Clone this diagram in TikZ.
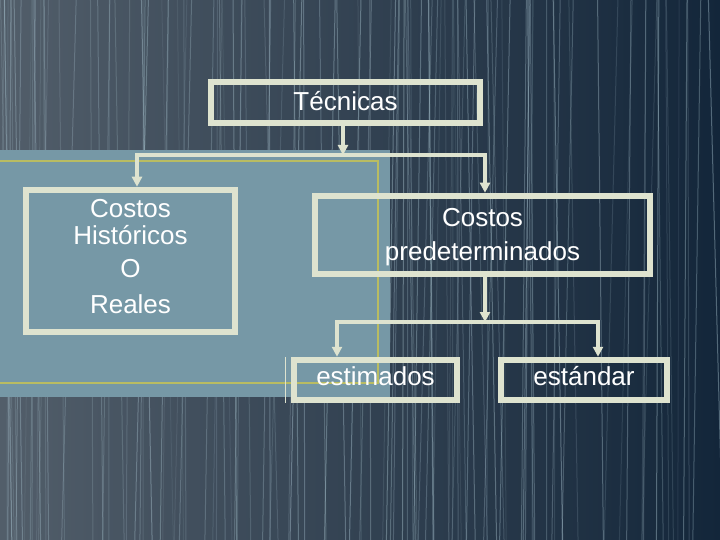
\documentclass[tikz,border=0pt]{standalone}
\usepackage{fontspec}
\setmainfont{Liberation Sans}
\usetikzlibrary{arrows.meta,positioning}
\definecolor{cream}{HTML}{DEE3CF}
\definecolor{panel}{HTML}{7698A6}
\definecolor{olive}{HTML}{B9BC62}
\definecolor{bgleft}{HTML}{525E6A}
\definecolor{bgright}{HTML}{13263A}
\definecolor{rain}{HTML}{A8C2CE}
\tikzset{
	box/.style = {draw=cream, line width=6.5pt, text=white, align=center,
		inner sep=0pt, font=\fontsize{26}{27}\selectfont},
	onebox/.style = {box, text height=18pt, text depth=8pt},
	link/.style = {draw=cream, line width=3.5pt},
	arr/.style = {link, -{Triangle[length=10pt,width=10pt]}},
	streak/.style = {draw=rain, line width=1pt}
}
\begin{document}
\begin{tikzpicture}[x=1pt,y=-1pt]
\useasboundingbox (0,0) rectangle (720,540);
% background
\shade[left color=bgleft, right color=bgright] (0,0) rectangle (720,540);
\pgfmathsetseed{11}
\foreach \i in {1,...,120}{
	\pgfmathsetmacro{\xa}{720*rnd}
	\pgfmathsetmacro{\xb}{\xa+30*rnd-15}
	\pgfmathsetmacro{\op}{0.1+0.35*rnd}
	\draw[streak, opacity=\op] (\xa,0) -- (\xb,540);
}
\fill[panel] (0,150) rectangle (390,397);
\draw[olive, line width=2pt] (-5,161) -- (378,161) -- (378,383) -- (-5,383);

% boxes
\node [onebox, minimum width=269pt, minimum height=41pt, text depth=1pt]
	(tec) at (345.5,102.5) {Técnicas};
\node [box, minimum width=209pt, minimum height=142pt]
	(hist) at (130.5,261) {Costos\\Históricos\\[6pt]O\\[9pt]Reales\rule[-10pt]{0pt}{0pt}};
\node [box, minimum width=335pt, minimum height=78pt, font=\fontsize{26}{34}\selectfont]
	(pred) at (482.5,235) {\rule{0pt}{22pt}Costos\\predeterminados};
\node [onebox, minimum width=163pt, minimum height=40pt]
	(est) at (375.5,380) {estimados};
\node [onebox, minimum width=166pt, minimum height=40pt]
	(std) at (584,380) {estándar};
\draw[cream, line width=0.8pt] ([xshift=-5.5pt]est.north west) -- ([xshift=-5.5pt]est.south west);

% connectors
\coordinate (bus1) at (343,155);
\coordinate (bus2) at (485,322);
\draw[arr] (tec.south -| bus1) -- (bus1);
\draw[arr] (bus1) -| (hist.north -| 137,0);
\draw[arr] (bus1) -| (pred.north -| 485,0);
\draw[arr] (pred.south -| bus2) -- (bus2);
\draw[arr] (bus2) -| (est.north -| 337,0);
\draw[arr] (bus2) -| (std.north -| 598,0);
\end{tikzpicture}
\end{document}
